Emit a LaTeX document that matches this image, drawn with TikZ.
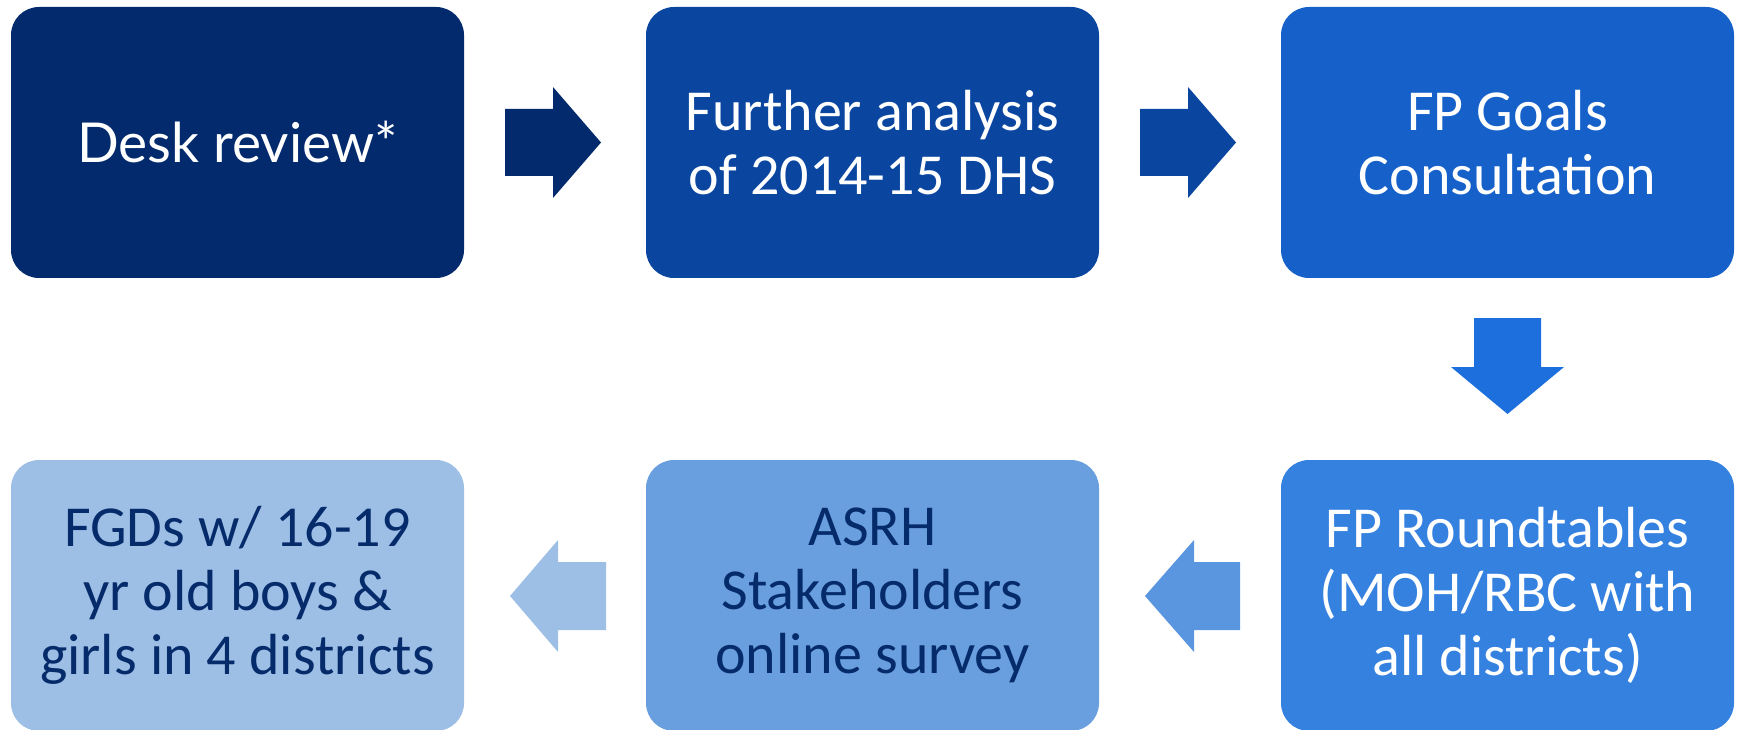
\documentclass[tikz,border=0pt]{standalone}
\usepackage{fontspec}
\setmainfont{Carlito}
\newfontfamily\deskfont{Lato}
\definecolor{navy}{HTML}{022A6C}
\definecolor{blueA}{HTML}{0A46A0}
\definecolor{blueB}{HTML}{1561C9}
\definecolor{blueC}{HTML}{1C6FDD}
\definecolor{blueD}{HTML}{3481E0}
\definecolor{blueE}{HTML}{5A95E0}
\definecolor{blueF}{HTML}{6A9FDF}
\definecolor{blueG}{HTML}{9DBFE5}
\definecolor{inktext}{HTML}{062B6B}
\begin{document}
\begin{tikzpicture}[x=1pt,y=-1pt,
  stage/.style={rounded corners=28pt, minimum width=453pt, minimum height=271pt,
    inner sep=0pt, align=center, font=\fontsize{58}{64}\selectfont},
  light/.style={stage, text=white},
  dark/.style={stage, text=inktext}]
\useasboundingbox (0,0) rectangle (1741,730);

% top row
\node[light, fill=navy]  (desk)  at (237.5,142.5) {\deskfont\fontsize{55}{64}\selectfont Desk review*};
\node[light, fill=blueA] (dhs)   at (872.5,142.5) {Further analysis\\of 2014-15 DHS};
\node[light, fill=blueB] (goals) at (1507.5,142.5) {FP Goals\\Consultation};

% bottom row
\node[light, fill=blueD] (round) at (1507.5,595.5) {FP Roundtables\\(MOH/RBC with\\all districts)};
\node[dark,  fill=blueF] (asrh)  at (872.5,595.5) {ASRH\\Stakeholders\\online survey};
\node[dark,  fill=blueG] (fgd)   at (237.5,595.5) {FGDs w/ 16-19\\yr old boys \&\\girls in 4 districts};

% block arrows
\fill[navy]  (505,109) -- (553,109) -- (553,87) -- (601,142.5) -- (553,198) -- (553,176) -- (505,176) -- cycle;
\fill[blueA] (1140,109) -- (1188,109) -- (1188,87) -- (1236,142.5) -- (1188,198) -- (1188,176) -- (1140,176) -- cycle;
\fill[blueC] (1474,318) -- (1541,318) -- (1541,367) -- (1564,367) -- (1507.5,414) -- (1451,367) -- (1474,367) -- cycle;
\fill[blueE] (1240,562) -- (1194,562) -- (1194,540) -- (1145,596) -- (1194,652) -- (1194,630) -- (1240,630) -- cycle;
\fill[blueG] (606,562) -- (558,562) -- (558,540) -- (510,596) -- (558,652) -- (558,630) -- (606,630) -- cycle;
\end{tikzpicture}
\end{document}
